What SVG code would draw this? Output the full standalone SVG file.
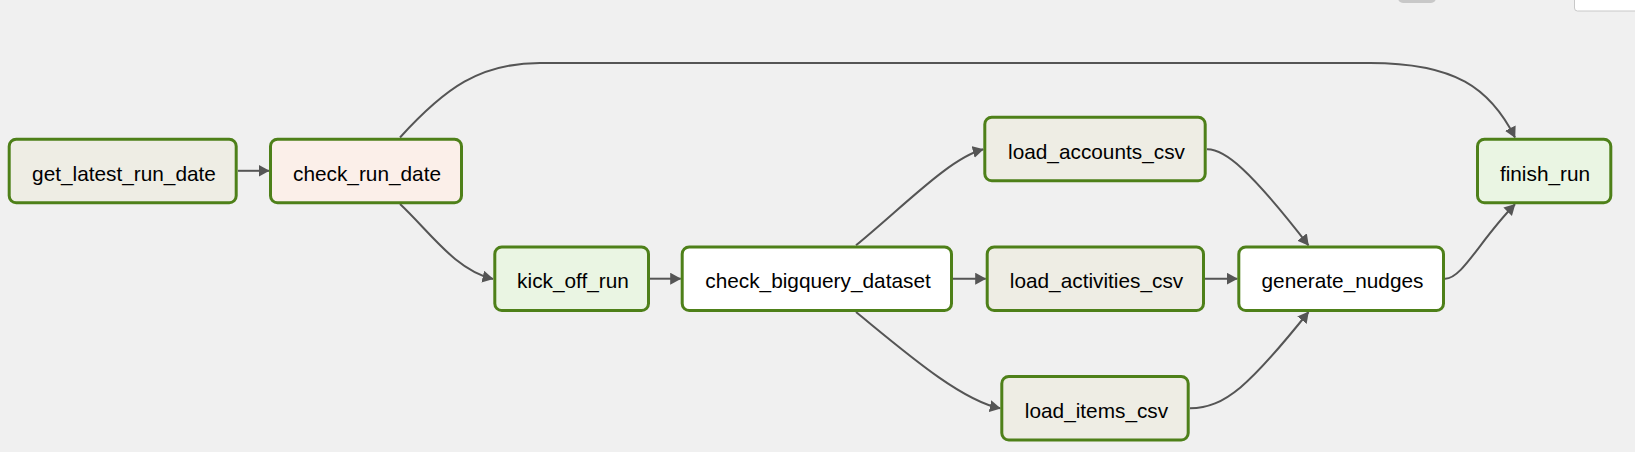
<svg xmlns="http://www.w3.org/2000/svg" width="1635" height="452" viewBox="0 0 1635 452">
<defs>
<style>
.node rect{stroke:#4e8019;stroke-width:3}
.node text{font-family:"Liberation Sans",Arial,sans-serif;font-size:20.8px;fill:#000;text-anchor:middle}
.edge{fill:none;stroke:#555;stroke-width:2;marker-end:url(#arr)}
</style>
<marker id="arr" markerUnits="userSpaceOnUse" markerWidth="12" markerHeight="13" refX="10.5" refY="6" orient="auto">
<path d="M0,0 L11,6 L0,12 z" fill="#555"/>
</marker>
</defs>
<rect width="1635" height="452" fill="#f0f0f0"/>
<rect x="1398" y="-10" width="38" height="13" rx="5" fill="#c8c8c8"/>
<rect x="1574.5" y="-5" width="70" height="16" rx="3" fill="#fff" stroke="#c8c8c8" stroke-width="1"/>
<g id="connectors">
<path class="edge" d="M238,170.8 L269,170.8"/>
<path class="edge" d="M400,204 C430,232 455,270 493,279"/>
<path class="edge" d="M400,137.5 C445,88 480,63 540,63 L1370,63 C1455,63 1490,88 1515,137.5"/>
<path class="edge" d="M650,278.7 L680.7,278.7"/>
<path class="edge" d="M856,245.3 C905,205 950,158 983.3,149.3"/>
<path class="edge" d="M953,278.7 L985.7,278.7"/>
<path class="edge" d="M856,312 C905,352 960,400 1000.3,408.3"/>
<path class="edge" d="M1207,149.3 C1225,149 1250,170 1308.5,245.3"/>
<path class="edge" d="M1205,278.7 L1237.3,278.7"/>
<path class="edge" d="M1190,408.3 C1225,408 1250,385 1308.5,312"/>
<path class="edge" d="M1445,278.7 C1462,279 1480,240 1515,204.3"/>
</g>
<g id="get_latest_run_date" class="node"><rect x="9.2" y="139.2" width="227" height="63.6" rx="7" fill="#eeede4"/><text x="124" y="180.5">get_latest_run_date</text></g>
<g id="check_run_date" class="node"><rect x="270.5" y="139.2" width="191" height="63.6" rx="7" fill="#fbefe9"/><text x="367" y="180.5">check_run_date</text></g>
<g id="kick_off_run" class="node"><rect x="494.8" y="246.9" width="153.7" height="63.6" rx="7" fill="#eaf5e3"/><text x="573" y="288.2">kick_off_run</text></g>
<g id="check_bigquery_dataset" class="node"><rect x="682.2" y="246.9" width="269.3" height="63.6" rx="7" fill="#fff"/><text x="818" y="288.2">check_bigquery_dataset</text></g>
<g id="load_accounts_csv" class="node"><rect x="984.8" y="117.2" width="220.4" height="63.6" rx="7" fill="#eeede4"/><text x="1096.5" y="158.5">load_accounts_csv</text></g>
<g id="load_activities_csv" class="node"><rect x="987.2" y="246.9" width="216.3" height="63.6" rx="7" fill="#eeede4"/><text x="1096.5" y="288.2">load_activities_csv</text></g>
<g id="load_items_csv" class="node"><rect x="1001.8" y="376.5" width="186.4" height="63.6" rx="7" fill="#eeede4"/><text x="1096.5" y="417.8">load_items_csv</text></g>
<g id="generate_nudges" class="node"><rect x="1238.8" y="246.9" width="204.7" height="63.6" rx="7" fill="#fff"/><text x="1342.5" y="288.2">generate_nudges</text></g>
<g id="finish_run" class="node"><rect x="1477.5" y="139.2" width="133.3" height="63.6" rx="7" fill="#eaf5e3"/><text x="1545" y="180.5">finish_run</text></g>
</svg>
